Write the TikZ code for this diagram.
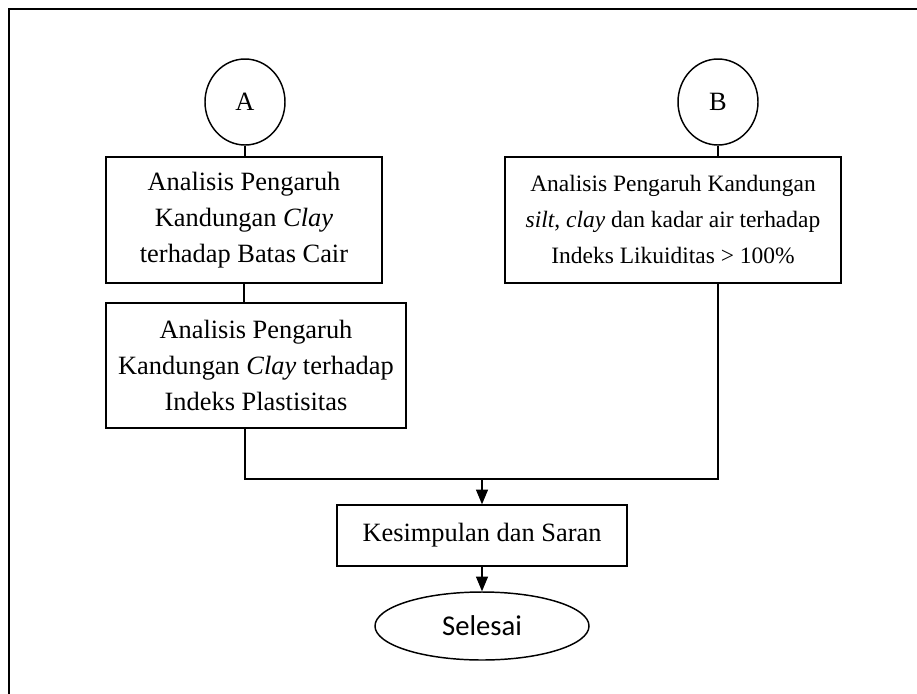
\documentclass[tikz,border=0pt]{standalone}
\usepackage{fontspec}
\setmainfont{Liberation Serif}
\newfontfamily\calib{Carlito}
\usetikzlibrary{shapes.geometric,arrows.meta}
\begin{document}
\begin{tikzpicture}[x=0.75pt,y=-0.75pt,
  box/.style={draw,line width=1.1pt,rectangle,align=center,inner sep=0pt,
    font=\fontsize{19.8pt}{27pt}\selectfont},
  conn/.style={line width=0.8pt},
  arr/.style={line width=0.8pt,-{Triangle[length=11pt,width=9pt]}},
  conncirc/.style={draw,line width=1.1pt,ellipse,inner sep=0pt,
    minimum width=60pt,minimum height=64.5pt,font=\fontsize{19.8pt}{24pt}\selectfont}]
\useasboundingbox (0,0) rectangle (917,693);
\draw[line width=2.2pt] (925,9) -- (9,9) -- (9,700);

\node[conncirc] (A) at (245,102) {A};
\node[conncirc] (B) at (718,102) {B};

\node[box,minimum width=207pt,minimum height=94.5pt] (b1) at (244,220)
  {Analisis Pengaruh\\Kandungan \textit{Clay}\\terhadap Batas Cair};
\node[box,minimum width=225pt,minimum height=93.75pt] (b2) at (256,365.5)
  {Analisis Pengaruh\\Kandungan \textit{Clay} terhadap\\Indeks Plastisitas};
\node[box,minimum width=252pt,minimum height=94.5pt,font=\fontsize{17.6pt}{27pt}\selectfont] (bB) at (673,220)
  {Analisis Pengaruh Kandungan\\\textit{silt}, \textit{clay} dan kadar air terhadap\\Indeks Likuiditas > 100\%};
\node[box,minimum width=217.5pt,minimum height=45.75pt] (b4) at (482,535.5)
  {Kesimpulan dan Saran};
\node[draw,line width=1.1pt,ellipse,inner sep=0pt,minimum width=160.5pt,minimum height=51pt,
  font=\calib\fontsize{21.5pt}{26pt}\selectfont] (end) at (482,626) {Selesai};

\coordinate (j) at (482,479);

\draw[conn] (A.south) -- (A.south |- b1.north);
\draw[conn] (b1.south) -- (b1.south |- b2.north);
\draw[conn] (B.south) -- (B.south |- bB.north);
\draw[conn] (b2.south -| A.south) |- (j) -| (bB.south -| B.south);
\draw[arr] (j) -- (b4.north);
\draw[arr] (b4.south) -- (end.north);
\end{tikzpicture}
\end{document}
